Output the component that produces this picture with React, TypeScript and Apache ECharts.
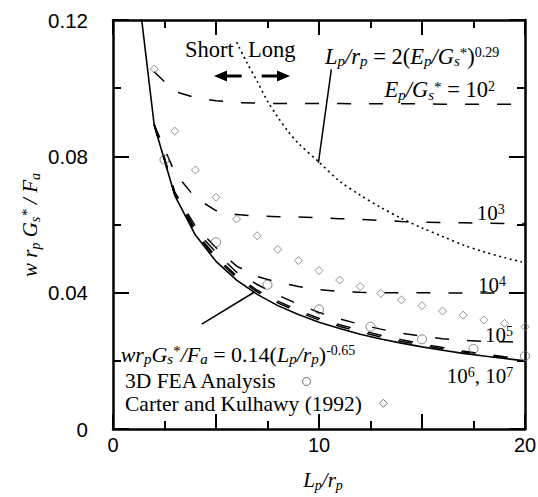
import React, { useEffect, useRef } from 'react';
import * as echarts from 'echarts';

const SERIF = '"Liberation Serif", "Times New Roman", Times, serif';
const SANS = '"Liberation Sans", Arial, Helvetica, sans-serif';

// x ticks and labels
const xTickValues = [0, 10, 20];
const xTickLabels = ['0', '10', '20'];
const yTickValues = [0, 0.04, 0.08, 0.12];
const yTickLabels = ['0', '0.04', '0.08', '0.12'];

// Fitted power curve, sampled at integer Lp/rp
const fitX = [1, 2, 3, 4, 5, 6, 7, 8, 9, 10, 11, 12, 13, 14, 15, 16, 17, 18, 19, 20];
const fitY = [0.14, 0.0892, 0.0685, 0.0569, 0.0492, 0.0437, 0.0395, 0.0362, 0.0336, 0.0313,
  0.0295, 0.0278, 0.0264, 0.0252, 0.0241, 0.0231, 0.0222, 0.0214, 0.0207, 0.0200];

// Parametric curves for different Ep/Gs* ratios
const stiffX = [2, 3, 4, 5, 6, 7, 8, 9, 10, 11, 12, 13, 14, 15, 16, 17, 18, 19, 20];
const ratio1e2 = [0.1048, 0.0990, 0.0972, 0.0963, 0.0958, 0.0956, 0.0955, 0.0955, 0.0955, 0.0955,
  0.0954, 0.0954, 0.0954, 0.0954, 0.0953, 0.0953, 0.0953, 0.0953, 0.0953];
const ratio1e3 = [0.0893, 0.0752, 0.0678, 0.0641, 0.0629, 0.0625, 0.0623, 0.0622, 0.0620, 0.0617,
  0.0615, 0.0612, 0.0609, 0.0607, 0.0606, 0.0605, 0.0604, 0.0603, 0.0603];
const ratio1e4 = [0.0894, 0.0695, 0.0595, 0.0532, 0.0478, 0.0447, 0.0431, 0.0418, 0.0409, 0.0404,
  0.0401, 0.0400, 0.0400, 0.0400, 0.0399, 0.0399, 0.0399, 0.0399, 0.0399];
const ratio1e5 = [0.0894, 0.0692, 0.0585, 0.0518, 0.0460, 0.0424, 0.0393, 0.0366, 0.0342, 0.0323,
  0.0307, 0.0293, 0.0281, 0.0272, 0.0265, 0.0260, 0.0257, 0.0256, 0.0255];
const ratio1e6 = [0.0893, 0.0689, 0.0578, 0.0506, 0.0449, 0.0407, 0.0375, 0.0348, 0.0325, 0.0306,
  0.0290, 0.0275, 0.0262, 0.0250, 0.0239, 0.0229, 0.0220, 0.0212, 0.0205];
const ratio1e7 = [0.0892, 0.0687, 0.0574, 0.0500, 0.0444, 0.0402, 0.0370, 0.0343, 0.0320, 0.0301,
  0.0285, 0.0270, 0.0257, 0.0246, 0.0235, 0.0226, 0.0218, 0.0210, 0.0203];

// Short / long pile boundary
const boundaryX = [6, 6.5, 7, 7.5, 8, 8.5, 9, 10, 11, 12, 13, 14, 15, 16, 17, 18, 19, 19.85];
const boundaryY = [0.1135, 0.1075, 0.102, 0.0962, 0.0915, 0.0873, 0.0838, 0.0783, 0.0727, 0.0686,
  0.065, 0.0618, 0.059, 0.0565, 0.054, 0.052, 0.0503, 0.049];

// 3D FEA analysis results
const feaX = [2.5, 5, 7.5, 10, 12.5, 15, 17.5, 20];
const feaY = [0.079, 0.0548, 0.0423, 0.0351, 0.030, 0.0263, 0.0235, 0.0214];

// Carter and Kulhawy (1992)
const carterX = [2, 3, 4, 5, 6, 7, 8, 9, 10, 11, 12, 13, 14, 15, 16, 17, 18, 19, 20];
const carterY = [0.1056, 0.0874, 0.076, 0.068, 0.0616, 0.0567, 0.0527, 0.0494, 0.0465, 0.0437,
  0.0418, 0.0398, 0.0379, 0.0362, 0.0346, 0.0334, 0.032, 0.031, 0.030];

// Leader line anchors (data coordinates)
const boundaryLeader = [[10.6, 0.1055], [9.97, 0.0781]];
const fitLeader = [[4.31, 0.0308], [6.87, 0.0402]];

const zip = (xs: number[], ys: number[]) => xs.map((x, i) => [x, ys[i]]);

const makeRich = (size: number): any => ({
  i: { fontFamily: SERIF, fontStyle: 'italic', fontSize: size, verticalAlign: 'middle' },
  n: { fontFamily: SERIF, fontSize: size, verticalAlign: 'middle' },
  sub: { fontFamily: SERIF, fontStyle: 'italic', fontSize: 15, padding: [10, 0, 0, 0], verticalAlign: 'middle' },
  sup: { fontFamily: SERIF, fontSize: 14, padding: [0, 0, 7, 0], verticalAlign: 'middle' },
  st: { fontFamily: SERIF, fontSize: 15, padding: [0, 0, 6, 0], verticalAlign: 'middle' },
});
const rich = makeRich(22.5);
const richEq = makeRich(22);
const richLegend = makeRich(21.5);
const richSmall: any = {
  n: { fontFamily: SERIF, fontSize: 21, verticalAlign: 'middle' },
  sup: { fontFamily: SERIF, fontSize: 14, padding: [0, 0, 7, 0], verticalAlign: 'middle' },
};
const richAxis: any = {
  i: { fontFamily: SERIF, fontStyle: 'italic', fontSize: 21, verticalAlign: 'middle' },
  sub: { fontFamily: SERIF, fontStyle: 'italic', fontSize: 14, padding: [10, 0, 0, 0], verticalAlign: 'middle' },
  st: { fontFamily: SERIF, fontStyle: 'italic', fontSize: 15, padding: [0, 0, 6, 0], verticalAlign: 'middle' },
};

const tickCommon = (major: number) => ({
  axisLine: { show: true, onZero: false, lineStyle: { color: '#000', width: 2.5 } },
  axisTick: { show: true, inside: true, length: major, lineStyle: { color: '#000', width: 2 } },
  minorTick: { show: true, splitNumber: 2, length: 8, lineStyle: { color: '#000', width: 2 } },
  splitLine: { show: false },
  minorSplitLine: { show: false },
});

const dashed = (name: string, ys: number[]) => ({
  name,
  type: 'line',
  data: zip(stiffX, ys),
  symbol: 'none',
  lineStyle: { color: '#000', width: 1.5, type: [14, 18] },
  z: 3,
});

export default function App() {
  const ref = useRef<HTMLDivElement>(null);

  useEffect(() => {
    document.body.style.margin = '0';
    const chart = echarts.init(ref.current!, undefined, { renderer: 'svg' });
    const xLabel = (v: number) => {
      const i = xTickValues.indexOf(v);
      return i >= 0 ? xTickLabels[i] : '';
    };
    const yLabel = (v: number) => {
      const i = yTickValues.findIndex((t) => Math.abs(t - v) < 1e-9);
      return i >= 0 ? yTickLabels[i] : '';
    };
    chart.setOption({
      animation: false,
      backgroundColor: '#fff',
      grid: { left: 113, right: 13, top: 20, bottom: 68, containLabel: false, outerBoundsMode: 'none' },
      xAxis: [
        {
          type: 'value', min: 0, max: 20, interval: 5, position: 'bottom',
          ...tickCommon(15),
          axisLabel: { show: true, formatter: xLabel, fontFamily: SANS, fontSize: 20, color: '#000', margin: 6 },
        },
        {
          type: 'value', min: 0, max: 20, interval: 5, position: 'top',
          ...tickCommon(15),
          axisLabel: { show: false },
        },
      ],
      yAxis: [
        {
          type: 'value', min: 0, max: 0.12, interval: 0.04, position: 'left',
          ...tickCommon(16),
          axisLabel: { show: true, formatter: yLabel, fontFamily: SANS, fontSize: 20.5, color: '#000', margin: 25 },
        },
        {
          type: 'value', min: 0, max: 0.12, interval: 0.04, position: 'right',
          ...tickCommon(16),
          axisLabel: { show: false },
        },
      ],
      series: [
        {
          name: 'fit', type: 'line', data: zip(fitX, fitY), symbol: 'none',
          lineStyle: { color: '#000', width: 1.6 }, z: 4,
        },
        dashed('1e2', ratio1e2),
        dashed('1e3', ratio1e3),
        dashed('1e4', ratio1e4),
        dashed('1e5', ratio1e5),
        dashed('1e6', ratio1e6),
        dashed('1e7', ratio1e7),
        {
          name: 'boundary', type: 'line', data: zip(boundaryX, boundaryY), symbol: 'none', smooth: 0.3,
          lineStyle: { color: '#000', width: 1.6, type: [2, 3.5] }, z: 3,
        },
        {
          name: '3D FEA Analysis', type: 'scatter', data: zip(feaX, feaY), symbol: 'circle', symbolSize: 9,
          itemStyle: { color: 'transparent', borderColor: '#666', borderWidth: 1 }, z: 5,
        },
        {
          name: 'Carter and Kulhawy (1992)', type: 'scatter', data: zip(carterX, carterY), symbol: 'diamond',
          symbolSize: [8, 8], itemStyle: { color: 'transparent', borderColor: '#777', borderWidth: 1 }, z: 5,
        },
      ],
    });

    const px = (p: number[]) => chart.convertToPixel({ xAxisIndex: 0, yAxisIndex: 0 }, p) as number[];
    const b0 = px(boundaryLeader[0]);
    const b1 = px(boundaryLeader[1]);
    const f0 = px(fitLeader[0]);
    const f1 = px(fitLeader[1]);
    const text = (x: number, y: number, t: string, r: any, align = 'left', extra: any = {}) => ({
      type: 'text', x, y, z: 10, ...extra,
      style: { text: t, rich: r, fill: '#000', align, verticalAlign: 'middle', fontFamily: SERIF, fontSize: 22 },
    });

    chart.setOption({
      graphic: [
        { type: 'line', shape: { x1: b0[0], y1: b0[1], x2: b1[0], y2: b1[1] }, style: { stroke: '#000', lineWidth: 1.5 }, z: 10 },
        { type: 'line', shape: { x1: f0[0], y1: f0[1], x2: f1[0], y2: f1[1] }, style: { stroke: '#000', lineWidth: 1.5 }, z: 10 },
        text(325, 56, '{i|L}{sub|p}{i|/r}{sub|p}{n| = 2(}{i|E}{sub|p}{i|/G}{sub|s}{st|*}{n|)}{sup|0.29}', rich),
        text(495, 89.5, '{i|E}{sub|p}{i|/G}{sub|s}{st|*}{n| = 10}{sup|2}', rich, 'right'),
        text(185, 49.5, '{n|Short}', rich),
        text(248, 49.5, '{n|Long}', rich),
        { type: 'line', shape: { x1: 241.7, y1: 76, x2: 224, y2: 76 }, style: { stroke: '#000', lineWidth: 3 }, z: 10 },
        { type: 'polygon', shape: { points: [[214, 76], [227, 70.5], [227, 81.5]] }, style: { fill: '#000' }, z: 10 },
        { type: 'line', shape: { x1: 261.7, y1: 76, x2: 279, y2: 76 }, style: { stroke: '#000', lineWidth: 3 }, z: 10 },
        { type: 'polygon', shape: { points: [[290, 76], [277, 70.5], [277, 81.5]] }, style: { fill: '#000' }, z: 10 },
        text(476.7, 213, '{n|10}{sup|3}', richSmall),
        text(478, 284.5, '{n|10}{sup|4}', richSmall),
        text(485, 334.5, '{n|10}{sup|5}', richSmall),
        text(446.7, 376, '{n|10}{sup|6}{n|, 10}{sup|7}', richSmall),
        text(120.7, 354, '{i|wr}{sub|p}{i|G}{sub|s}{st|*}{i|/F}{sub|a}{n| = 0.14(}{i|L}{sub|p}{i|/r}{sub|p}{n|)}{sup|-0.65}', richEq),
        text(125, 380.5, '{n|3D FEA Analysis}', richLegend),
        text(125, 404, '{n|Carter and Kulhawy (1992)}', richLegend),
        { type: 'circle', shape: { cx: 306.5, cy: 381.5, r: 4 }, style: { fill: 'none', stroke: '#666', lineWidth: 1 }, z: 10 },
        { type: 'polygon', shape: { points: [[383.3, 399.3], [387.3, 403.3], [383.3, 407.3], [379.3, 403.3]] }, style: { fill: 'none', stroke: '#777', lineWidth: 1 }, z: 10 },
        text(323, 480, '{i|L}{sub|p}{i|/r}{sub|p}', richAxis, 'center'),
        text(30, 225, '{i|w r}{sub|p}{i| G}{sub|s}{st|*}{i| / F}{sub|a}', richAxis, 'center', { rotation: Math.PI / 2 }),
      ],
    });

    return () => chart.dispose();
  }, []);

  return <div ref={ref} style={{ position: 'fixed', left: 0, top: 0, width: 538, height: 497 }} />;
}
